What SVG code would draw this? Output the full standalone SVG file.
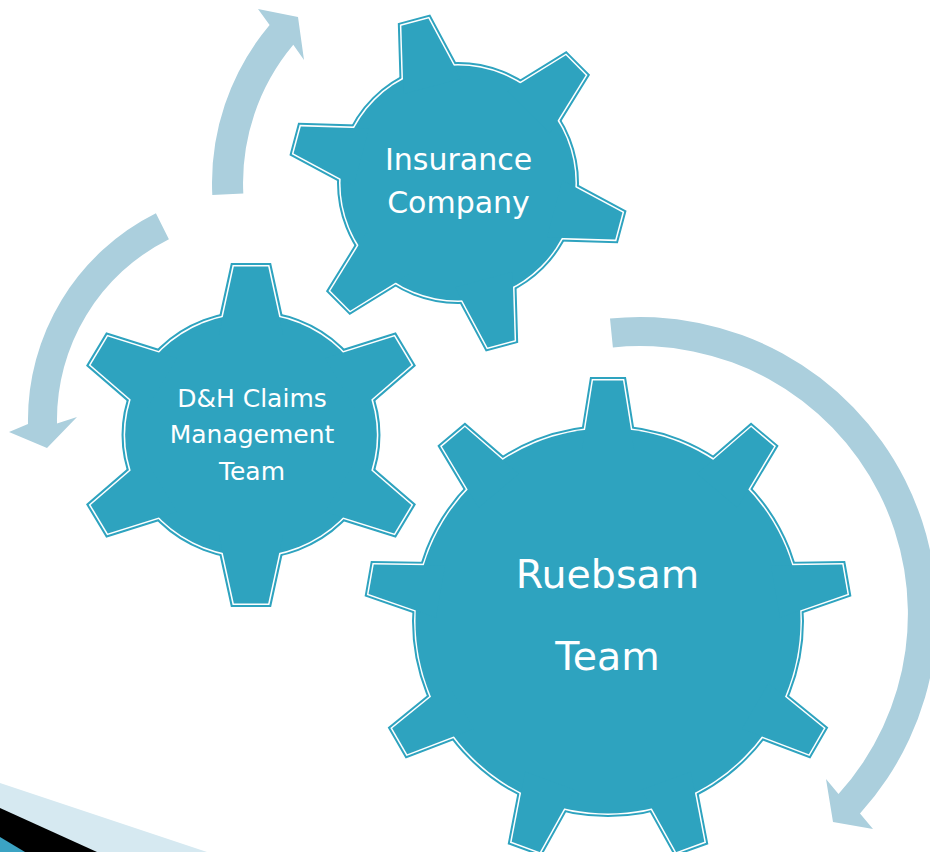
<svg xmlns="http://www.w3.org/2000/svg" xmlns:xlink="http://www.w3.org/1999/xlink" width="930" height="852" viewBox="0 0 930 852">
<style>
.bg{fill:#ffffff}
.arrow{fill:#ABCFDD;stroke:none}
.l1{fill:#2EA3BF;stroke:#2EA3BF;stroke-width:7;stroke-linejoin:miter}
.l2{fill:none;stroke:#ffffff;stroke-width:3;stroke-linejoin:miter}
.l3{fill:#2EA3BF;stroke:none}
.lbl{font-family:"DejaVu Sans","Liberation Sans",sans-serif;fill:#ffffff;text-anchor:middle}
</style>
<defs>
<polygon id="tA" points="-14,-166.5 14,-166.5 29.7,-100 -29.7,-100"/>
<polygon id="tB" points="-16.5,-168.5 16.5,-168.5 30.9,-100 -30.9,-100"/>
<polygon id="tC" points="-15,-240.5 15,-240.5 26.3,-170 -26.3,-170"/>
<g id="shapeIns">
<circle r="117.5"/>
<use xlink:href="#tA" transform="rotate(-15)"/>
<use xlink:href="#tA" transform="rotate(45)"/>
<use xlink:href="#tA" transform="rotate(105)"/>
<use xlink:href="#tA" transform="rotate(165)"/>
<use xlink:href="#tA" transform="rotate(225)"/>
<use xlink:href="#tA" transform="rotate(285)"/>
</g>
<g id="shapeDH">
<circle r="121"/>
<use xlink:href="#tB" transform="rotate(0)"/>
<use xlink:href="#tB" transform="rotate(60)"/>
<use xlink:href="#tB" transform="rotate(120)"/>
<use xlink:href="#tB" transform="rotate(180)"/>
<use xlink:href="#tB" transform="rotate(240)"/>
<use xlink:href="#tB" transform="rotate(300)"/>
</g>
<g id="shapeRu">
<circle r="192.5"/>
<use xlink:href="#tC" transform="rotate(0)"/>
<use xlink:href="#tC" transform="rotate(40)"/>
<use xlink:href="#tC" transform="rotate(80)"/>
<use xlink:href="#tC" transform="rotate(120)"/>
<use xlink:href="#tC" transform="rotate(160)"/>
<use xlink:href="#tC" transform="rotate(200)"/>
<use xlink:href="#tC" transform="rotate(240)"/>
<use xlink:href="#tC" transform="rotate(280)"/>
<use xlink:href="#tC" transform="rotate(320)"/>
</g>
</defs>
<rect class="bg" x="0" y="0" width="930" height="852"/>
<g id="decor">
<polygon points="0,783 207,852 0,852" fill="#D6E9F1"/>
<polygon points="0,808 97,852 0,852" fill="#000000"/>
<polygon points="0,837 25,852 0,852" fill="#3BA3C3"/>
</g>
<g id="connectors">
<path class="arrow" d="M212.3,195 A246,246 0 0 1 269.6,24.9 L258,9 L298,17 L304,60 L293.3,44.8 A215,215 0 0 0 243.3,193.5 Z"/>
<path class="arrow" d="M155.9,213.3 A231,231 0 0 0 28,424 L9,432 L47,448 L77,417 L57,423.5 A202,202 0 0 1 168.9,239.2 Z"/>
<path class="arrow" d="M610,318.5 A297,297 0 0 1 860,813.5 L873,829 L833,822 L826,779 L838.5,794 A268,268 0 0 0 612.9,347.4 Z"/>
</g>
<g id="node-insurance">
<g transform="translate(458,183)">
<use xlink:href="#shapeIns" class="l1"/>
<use xlink:href="#shapeIns" class="l2"/>
<use xlink:href="#shapeIns" class="l3"/>
</g>
<text class="lbl" font-size="30" x="458.5" y="170">Insurance</text>
<text class="lbl" font-size="30" x="458.5" y="213">Company</text>
</g>
<g id="node-dh">
<g transform="translate(251,435) scale(1.04,1)">
<use xlink:href="#shapeDH" class="l1"/>
<use xlink:href="#shapeDH" class="l2"/>
<use xlink:href="#shapeDH" class="l3"/>
</g>
<text class="lbl" font-size="25" x="252" y="407">D&amp;H Claims</text>
<text class="lbl" font-size="25" x="252" y="443">Management</text>
<text class="lbl" font-size="25" x="252" y="480">Team</text>
</g>
<g id="node-ruebsam">
<g transform="translate(608,621)">
<use xlink:href="#shapeRu" class="l1"/>
<use xlink:href="#shapeRu" class="l2"/>
<use xlink:href="#shapeRu" class="l3"/>
</g>
<text class="lbl" font-size="39.5" x="607.5" y="588">Ruebsam</text>
<text class="lbl" font-size="39.5" x="607.5" y="670">Team</text>
</g>
</svg>
